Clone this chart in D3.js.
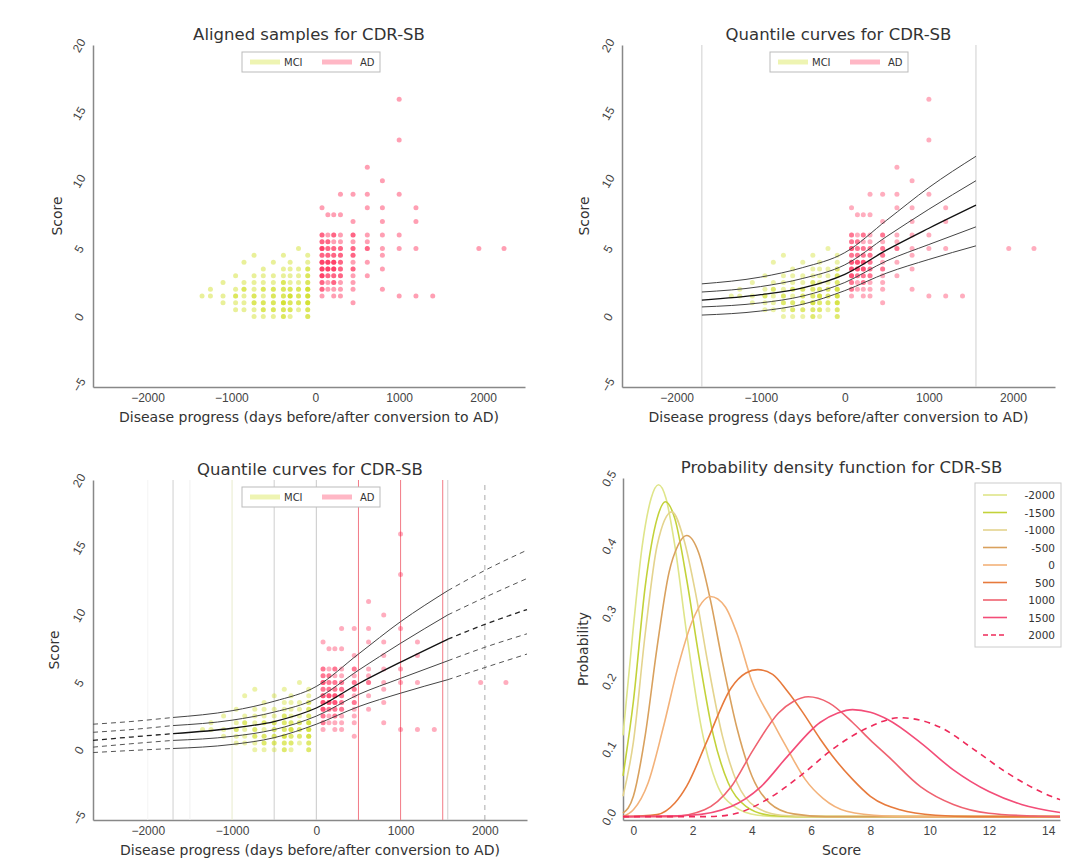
<!DOCTYPE html>
<html lang="en">
<head>
<meta charset="UTF-8">
<title>CDR-SB progression</title>
<script src="https://d3js.org/d3.v7.min.js"></script>
<style>
    body { margin: 0; background: #fff; }
    svg { font-family: "DejaVu Sans", sans-serif; }
    .title { font-size: 16.5px; fill: #333; }
    .label { font-size: 14px; fill: #333; }
    .tick text { font-size: 12px; fill: #444; }
    .legend-text { font-size: 10px; fill: #333; }
    .legend4-text { font-size: 10.5px; fill: #333; }
</style>
</head>
<body>
<svg id="chart" width="1068" height="867"></svg>
<script>
// ---- data ----
const xTicks = [-2000, -1000, 0, 1000, 2000];
const yTicks = [-5, 0, 5, 10, 15, 20];
const pdfXTicks = [0, 2, 4, 6, 8, 10, 12, 14];
const pdfYTicks = [0, 0.1, 0.2, 0.3, 0.4, 0.5];

// scatter: one list of scores per visit day (repeated value = several subjects)
const mciDays = [-1350, -1250, -1100, -950, -850, -730, -620, -500, -380, -300, -200, -90];
const mciScores = [
    [1.5],
    [1.5, 2],
    [1, 1.5, 2.5],
    [0.5, 1, 1.5, 1.5, 2, 3],
    [0.5, 1, 1.5, 2, 2, 2.5, 4],
    [0, 0.5, 1, 1, 1.5, 1.5, 2, 2.5, 3, 4.5],
    [0, 0.5, 0.5, 1, 1, 1.5, 2, 2, 2.5, 3, 3.5],
    [0, 0.5, 0.5, 1, 1, 1.5, 1.5, 2, 2, 2.5, 3, 4],
    [0, 0, 0.5, 0.5, 1, 1, 1, 1.5, 1.5, 2, 2, 2.5, 2.5, 3, 3.5, 4.5],
    [0, 0.5, 0.5, 1, 1, 1.5, 1.5, 1.5, 2, 2, 2.5, 3, 3.5, 4],
    [0.5, 1, 1, 1.5, 1.5, 2, 2, 2.5, 3, 3.5, 5],
    [0, 0, 0.5, 0.5, 1, 1, 1, 1.5, 1.5, 1.5, 2, 2, 2, 2.5, 2.5, 3, 3, 3.5, 3.5, 4, 4.5]
];
const adDays = [80, 150, 220, 300, 450, 620, 800, 1000, 1200, 1400, 1950, 2250];
const adScores = [
    [1.5, 2, 2, 2.5, 2.5, 3, 3, 3, 3.5, 3.5, 3.5, 4, 4, 4, 4.5, 4.5, 5, 5, 5, 5.5, 5.5, 6, 6, 8],
    [2, 2.5, 3, 3, 3.5, 3.5, 3.5, 4, 4, 4, 4.5, 4.5, 5, 5, 5.5, 5.5, 6, 7.5],
    [1.5, 2, 2.5, 2.5, 3, 3, 3.5, 3.5, 3.5, 4, 4, 4, 4.5, 4.5, 5, 5, 5.5, 6, 6, 7.5],
    [1.5, 2, 2.5, 3, 3, 3.5, 3.5, 4, 4, 4.5, 4.5, 5, 5, 5.5, 6, 7.5, 9],
    [1, 2, 2.5, 3, 3.5, 3.5, 4, 4.5, 4.5, 5, 5, 5.5, 6, 6, 7, 9],
    [3, 4, 5, 5, 5.5, 6, 8, 9, 11],
    [2, 3.5, 4.5, 5, 6, 7, 8, 10],
    [1.5, 5, 6, 9, 13, 16],
    [1.5, 5, 7, 8],
    [1.5],
    [5],
    [5]
];

// quantile curves (top to bottom), model range -1700 .. 1560
const quantileDays = [-1700, -1000, -500, 0, 500, 1000, 1560];
const quantileValues = [
    [2.4, 2.9, 3.6, 4.7, 7.1, 9.5, 11.8],
    [1.8, 2.2, 2.8, 3.8, 5.9, 7.9, 10.0],
    [1.2, 1.6, 2.1, 3.1, 4.9, 6.5, 8.2],
    [0.7, 1.0, 1.5, 2.5, 4.1, 5.3, 6.6],
    [0.1, 0.4, 0.9, 1.9, 3.2, 4.2, 5.2]
];
const extLeftDays = [-2650, -2200, -1700];
const extLeftValues = [
    [1.9, 2.1, 2.4],
    [1.3, 1.5, 1.8],
    [0.7, 0.95, 1.2],
    [0.2, 0.45, 0.7],
    [-0.2, -0.05, 0.1]
];
const extRightDays = [1560, 2000, 2500];
const extRightValues = [
    [11.8, 13.3, 14.8],
    [10.0, 11.3, 12.7],
    [8.2, 9.3, 10.4],
    [6.6, 7.6, 8.6],
    [5.2, 6.1, 7.1]
];
const modelRange = [-1700, 1560];

// probability density per sample day: [score, probability]
const pdfDays = [-2000, -1500, -1000, -500, 0, 500, 1000, 1500, 2000];
const pdfPoints = [
    [[-0.35, 0.12], [0, 0.28], [0.3, 0.40], [0.6, 0.47], [0.85, 0.49], [1.1, 0.47], [1.4, 0.40], [1.8, 0.27], [2.3, 0.13], [2.8, 0.05], [3.4, 0.015], [4.2, 0.002], [5, 0], [14.4, 0]],
    [[-0.35, 0.06], [0, 0.17], [0.4, 0.34], [0.8, 0.44], [1.08, 0.465], [1.4, 0.44], [1.8, 0.35], [2.2, 0.24], [2.7, 0.12], [3.2, 0.05], [3.8, 0.015], [4.6, 0.002], [5.5, 0], [14.4, 0]],
    [[-0.35, 0.03], [0, 0.11], [0.4, 0.27], [0.8, 0.40], [1.3, 0.45], [1.7, 0.41], [2.1, 0.33], [2.5, 0.23], [3.0, 0.12], [3.5, 0.05], [4.1, 0.015], [5, 0.002], [6, 0], [14.4, 0]],
    [[-0.35, 0.005], [0, 0.03], [0.4, 0.12], [0.8, 0.25], [1.2, 0.36], [1.5, 0.40], [1.8, 0.415], [2.2, 0.39], [2.6, 0.32], [3.0, 0.23], [3.5, 0.13], [4.0, 0.06], [4.6, 0.02], [5.4, 0.004], [6.5, 0], [14.4, 0]],
    [[-0.35, 0], [0, 0.01], [0.5, 0.05], [1.0, 0.13], [1.5, 0.22], [2.0, 0.29], [2.6, 0.325], [3.1, 0.31], [3.5, 0.27], [4.0, 0.20], [4.7, 0.14], [5.2, 0.10], [5.8, 0.055], [6.4, 0.027], [7.2, 0.008], [8.5, 0.001], [9.5, 0], [14.4, 0]],
    [[-0.35, 0], [0.8, 0.003], [1.4, 0.02], [1.8, 0.045], [2.5, 0.113], [3.3, 0.19], [3.8, 0.212], [4.2, 0.217], [4.7, 0.21], [5.2, 0.185], [5.7, 0.155], [6.3, 0.115], [6.8, 0.085], [7.4, 0.055], [8.0, 0.03], [9.0, 0.01], [10.2, 0.002], [11.5, 0], [14.4, 0]],
    [[-0.35, 0], [1.3, 0], [2.4, 0.01], [3.3, 0.044], [4.05, 0.099], [4.9, 0.153], [5.4, 0.17], [5.9, 0.177], [6.6, 0.168], [7.4, 0.139], [8.0, 0.113], [8.6, 0.089], [9.7, 0.044], [10.8, 0.018], [12, 0.005], [13.5, 0.001], [14.4, 0]],
    [[-0.35, 0], [1.9, 0.002], [3.3, 0.015], [4.3, 0.044], [5.2, 0.089], [6.3, 0.139], [6.9, 0.153], [7.4, 0.158], [8.0, 0.154], [8.6, 0.143], [9.7, 0.109], [10.8, 0.069], [12.0, 0.037], [13.1, 0.018], [14.4, 0.006]],
    [[-0.35, 0], [2.5, 0], [3.3, 0.003], [4.5, 0.025], [5.6, 0.059], [6.8, 0.102], [7.9, 0.131], [9.0, 0.146], [10.4, 0.131], [11.5, 0.099], [12.6, 0.065], [14.1, 0.03], [14.4, 0.025]]
];

// ---- styles ----
const mciColor = "#c8d900";
const adColor = "#ff1040";
const pdfColors = ["#dfe58a", "#c3d23a", "#e4d48e", "#d9a15e", "#f3b27a", "#e77a3c", "#ef6270", "#f34d78", "#ee2a5a"];
// vertical guide lines in the lower-left panel
const guideColors = ["#f4f4f4", "#f0f0f0", "#e8eccc", "#cfcfcf", "#c8c8c8", "#f27a86", "#f27a86", "#f27a86", "#aaaaaa"];

const svg = d3.select("#chart");

function panel(xDomain, xRange, yDomain, yRange, xt, yt, yFmt) {
    const x = d3.scaleLinear().domain(xDomain).range(xRange);
    const y = d3.scaleLinear().domain(yDomain).range(yRange);
    const g = svg.append("g");

    g.append("g")
        .attr("transform", `translate(0,${yRange[0]})`)
        .call(d3.axisBottom(x).tickValues(xt).tickSize(0).tickPadding(6)
            .tickFormat(d => d < 0 ? "\u2212" + Math.abs(d) : d));
    const ya = g.append("g")
        .attr("transform", `translate(${xRange[0]},0)`)
        .call(d3.axisLeft(y).tickValues(yt).tickSize(0).tickFormat(yFmt));
    ya.selectAll("text")
        .attr("x", 0).attr("dy", "0.35em")
        .attr("text-anchor", "middle")
        .attr("transform", "translate(-14,0) rotate(-60)");
    g.selectAll(".domain").attr("stroke", "#888").attr("stroke-width", 1.5);
    return { g, x, y };
}

function titles(p, title, xLabel, yLabel, yLabelX) {
    const [x0, x1] = p.x.range();
    const [yb, yt] = p.y.range();
    p.g.append("text").attr("class", "title")
        .attr("x", (x0 + x1) / 2).attr("y", yt - 5)
        .attr("text-anchor", "middle").text(title);
    p.g.append("text").attr("class", "label")
        .attr("x", (x0 + x1) / 2).attr("y", yb + 35)
        .attr("text-anchor", "middle").text(xLabel);
    p.g.append("text").attr("class", "label")
        .attr("text-anchor", "middle")
        .attr("transform", `translate(${yLabelX},${(yb + yt) / 2}) rotate(-90)`)
        .text(yLabel);
}

function scatter(p, fade) {
    const pts = [];
    mciDays.forEach((d, i) => mciScores[i].forEach(s => pts.push({ d, s, c: mciColor })));
    adDays.forEach((d, i) => adScores[i].forEach(s => pts.push({ d, s, c: adColor })));
    p.g.append("g").selectAll("circle")
        .data(pts)
        .join("circle")
        .attr("cx", d => p.x(d.d))
        .attr("cy", d => p.y(d.s))
        .attr("r", 2.5)
        .attr("fill", d => d.c)
        .attr("fill-opacity", 0.4 * fade);
}

function groupLegend(p, cx, top) {
    const lg = p.g.append("g").attr("transform", `translate(${cx - 69},${top})`);
    lg.append("rect").attr("width", 138).attr("height", 20)
        .attr("fill", "#fff").attr("stroke", "#bbb");
    const items = [["MCI", mciColor, 8, 42], ["AD", adColor, 80, 118]];
    items.forEach(([name, col, lx, tx]) => {
        lg.append("line").attr("x1", lx).attr("x2", lx + 30).attr("y1", 10).attr("y2", 10)
            .attr("stroke", col).attr("stroke-width", 5).attr("stroke-opacity", 0.3);
        lg.append("text").attr("class", "legend-text").attr("x", tx).attr("y", 13.5).text(name);
    });
}

function quantiles(p, dashedExt) {
    const line = d3.line().x(d => p.x(d[0])).y(d => p.y(d[1])).curve(d3.curveMonotoneX);
    quantileValues.forEach((vals, i) => {
        const mid = i === 2;
        p.g.append("path")
            .attr("d", line(quantileDays.map((d, j) => [d, vals[j]])))
            .attr("fill", "none")
            .attr("stroke", mid ? "#111" : "#444")
            .attr("stroke-width", mid ? 1.3 : 1);
        if (dashedExt) {
            [[extLeftDays, extLeftValues], [extRightDays, extRightValues]].forEach(([days, ext]) => {
                p.g.append("path")
                    .attr("d", line(days.map((d, j) => [d, ext[i][j]])))
                    .attr("fill", "none")
                    .attr("stroke", mid ? "#222" : "#555")
                    .attr("stroke-width", mid ? 1.3 : 1)
                    .attr("stroke-dasharray", "5,4");
            });
        }
    });
}

function vline(p, day, col, dash, width) {
    const [yb, yt] = p.y.range();
    p.g.append("line")
        .attr("x1", p.x(day)).attr("x2", p.x(day))
        .attr("y1", yb).attr("y2", yt)
        .attr("stroke", col).attr("stroke-width", width || 1)
        .attr("stroke-dasharray", dash || null);
}

const xLab = "Disease progress (days before/after conversion to AD)";
const xDom = [-2650, 2500];
const yDom = [-5.2, 20];

// panel 1
const p1 = panel(xDom, [93, 525], yDom, [387, 45], xTicks, yTicks, d3.format("d"));
titles(p1, "Aligned samples for CDR-SB", xLab, "Score", 62);
scatter(p1, 1);
groupLegend(p1, 311, 52);

// panel 2
const p2 = panel(xDom, [622, 1055], yDom, [387, 45], xTicks, yTicks, d3.format("d"));
titles(p2, "Quantile curves for CDR-SB", xLab, "Score", 589);
modelRange.forEach(d => vline(p2, d, "#cfcfcf"));
scatter(p2, 0.85);
quantiles(p2, false);
groupLegend(p2, 839, 52);

// panel 3
const p3 = panel(xDom, [93, 527], yDom, [820, 480], xTicks, yTicks, d3.format("d"));
titles(p3, "Quantile curves for CDR-SB", xLab, "Score", 59);
modelRange.forEach(d => vline(p3, d, "#cfcfcf"));
pdfDays.forEach((d, i) => vline(p3, d, guideColors[i], i === pdfDays.length - 1 ? "5,5" : null, 1));
scatter(p3, 0.85);
quantiles(p3, true);
groupLegend(p3, 311, 487);

// panel 4
const p4 = panel([-0.35, 14.4], [623, 1060], [-0.005, 0.5], [820, 478], pdfXTicks, pdfYTicks, d3.format(".1f"));
titles(p4, "Probability density function for CDR-SB", "Score", "Probability", 588);
const pdfLine = d3.line().x(d => p4.x(d[0])).y(d => p4.y(d[1])).curve(d3.curveMonotoneX);
pdfPoints.forEach((pts, i) => {
    p4.g.append("path")
        .attr("d", pdfLine(pts))
        .attr("fill", "none")
        .attr("stroke", pdfColors[i])
        .attr("stroke-width", 1.6)
        .attr("stroke-dasharray", i === pdfPoints.length - 1 ? "6,5" : null);
});
const lg4 = p4.g.append("g").attr("transform", "translate(975,483)");
lg4.append("rect").attr("width", 86).attr("height", 164).attr("fill", "#fff").attr("stroke", "#ccc");
pdfDays.forEach((d, i) => {
    const yy = 12 + i * 17.5;
    lg4.append("line").attr("x1", 8).attr("x2", 32).attr("y1", yy).attr("y2", yy)
        .attr("stroke", pdfColors[i]).attr("stroke-width", 1.6)
        .attr("stroke-dasharray", i === pdfDays.length - 1 ? "5,3" : null);
    lg4.append("text").attr("class", "legend4-text").attr("x", 80).attr("y", yy + 4)
        .attr("text-anchor", "end").text(d);
});
</script>
</body>
</html>
